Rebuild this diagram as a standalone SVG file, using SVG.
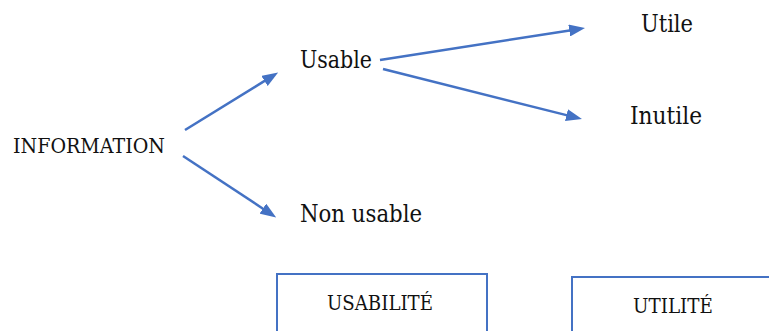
<svg xmlns="http://www.w3.org/2000/svg" width="769" height="331" viewBox="0 0 769 331">
<style>
  .t { font-family: "DejaVu Serif", serif; fill: #111; }
  .big { font-size: 24.5px; }
  .sm { font-size: 19.5px; }
  .conn { stroke: #4472C4; stroke-width: 2.5; fill: none; marker-end: url(#ah); }
  .box { stroke: #4472C4; stroke-width: 2; fill: #fff; }
</style>
<defs>
  <marker id="ah" markerUnits="userSpaceOnUse" markerWidth="16" markerHeight="12" refX="2" refY="6" orient="auto">
    <path d="M0,0 L16,6 L0,12 z" fill="#4472C4"/>
  </marker>
</defs>
<rect width="769" height="331" fill="#fff"/>
<g id="connectors">
  <line class="conn" x1="185" y1="130" x2="266.2" y2="79.9"/>
  <line class="conn" x1="183" y1="156" x2="264.5" y2="209.7"/>
  <line class="conn" x1="380" y1="60" x2="571.2" y2="30.2"/>
  <line class="conn" x1="383" y1="69" x2="568.4" y2="115.6"/>
</g>
<g id="information"><text class="t sm" x="13" y="153" textLength="152" lengthAdjust="spacingAndGlyphs">INFORMATION</text></g>
<g id="usable"><text class="t big" x="300" y="68" textLength="72" lengthAdjust="spacingAndGlyphs">Usable</text></g>
<g id="nonusable"><text class="t big" x="300" y="222" textLength="122" lengthAdjust="spacingAndGlyphs">Non usable</text></g>
<g id="utile"><text class="t big" x="641" y="32" textLength="52" lengthAdjust="spacingAndGlyphs">Utile</text></g>
<g id="inutile"><text class="t big" x="630" y="124" textLength="72" lengthAdjust="spacingAndGlyphs">Inutile</text></g>
<g id="usabilite">
  <rect class="box" x="277" y="274" width="210" height="70"/>
  <text class="t sm" x="327" y="310" textLength="106" lengthAdjust="spacingAndGlyphs">USABILITÉ</text>
</g>
<g id="utilite">
  <rect class="box" x="572" y="277" width="210" height="70"/>
  <text class="t sm" x="633" y="313" textLength="80" lengthAdjust="spacingAndGlyphs">UTILITÉ</text>
</g>
</svg>
